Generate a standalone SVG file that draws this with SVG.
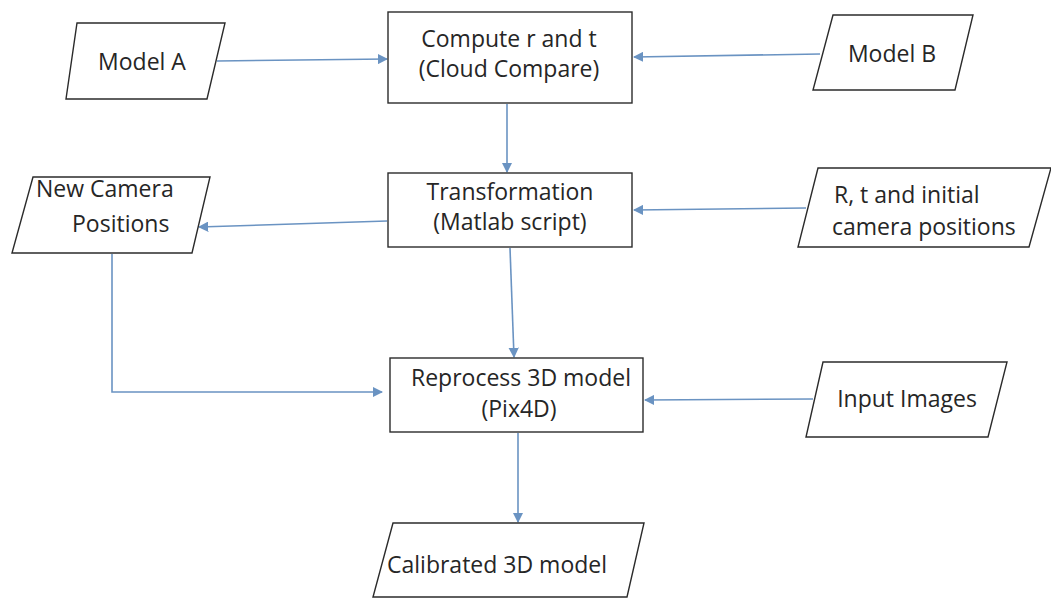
<svg xmlns="http://www.w3.org/2000/svg" width="1051" height="598" viewBox="0 0 1051 598">
  <style>
    .shape { fill: #ffffff; stroke: #2b2b2b; stroke-width: 1.4; }
    .label { font-family: "Open Sans", "Liberation Sans", sans-serif; font-size: 23px; fill: #262626; }
    .mid { text-anchor: middle; }
    .conn { fill: none; stroke: #6a93c2; stroke-width: 1.6; }
  </style>
  <defs>
    <marker id="arrow" viewBox="0 0 10 10" refX="9" refY="5" markerWidth="6.5" markerHeight="6.5" orient="auto" markerUnits="strokeWidth">
      <path d="M0,0 L10,5 L0,10 z" fill="#6a93c2"/>
    </marker>
  </defs>
  <rect width="1051" height="598" fill="#ffffff"/>

  <!-- connectors -->
  <g id="connectors">
    <path class="conn" d="M217,61 L387,59" marker-end="url(#arrow)"/>
    <path class="conn" d="M820,54 L634,57" marker-end="url(#arrow)"/>
    <path class="conn" d="M507,104 L507,172" marker-end="url(#arrow)"/>
    <path class="conn" d="M387,221 L199,227" marker-end="url(#arrow)"/>
    <path class="conn" d="M806,208 L634,210" marker-end="url(#arrow)"/>
    <path class="conn" d="M510,248 L514,357" marker-end="url(#arrow)"/>
    <path class="conn" d="M112,254 L112,392 L382,392" marker-end="url(#arrow)"/>
    <path class="conn" d="M813,399 L645,400" marker-end="url(#arrow)"/>
    <path class="conn" d="M518,433 L518,522" marker-end="url(#arrow)"/>
  </g>

  <!-- Model A -->
  <g id="model-a">
    <polygon class="shape" points="77,23 225,23 207,99 66,99"/>
    <text class="label mid" x="142" y="70">Model A</text>
  </g>

  <!-- Compute r and t -->
  <g id="compute-rt">
    <rect class="shape" x="388" y="12" width="244" height="91"/>
    <text class="label mid" x="509" y="47" font-size="24">Compute r and t</text>
    <text class="label mid" x="509" y="77" font-size="24">(Cloud Compare)</text>
  </g>

  <!-- Model B -->
  <g id="model-b">
    <polygon class="shape" points="833,15 973,15 955,90 813,90"/>
    <text class="label mid" x="892" y="62">Model B</text>
  </g>

  <!-- New Camera Positions -->
  <g id="new-camera-positions">
    <polygon class="shape" points="33,177 210,177 192,253 12,253"/>
    <text class="label" x="36" y="197">New Camera</text>
    <text class="label" x="72" y="232">Positions</text>
  </g>

  <!-- Transformation -->
  <g id="transformation">
    <rect class="shape" x="388" y="173" width="244" height="74"/>
    <text class="label mid" x="510" y="200">Transformation</text>
    <text class="label mid" x="510" y="230">(Matlab script)</text>
  </g>

  <!-- R, t and initial camera positions -->
  <g id="rt-initial">
    <polygon class="shape" points="818,168 1051,168 1029,247 798,247"/>
    <text class="label" x="834" y="203">R, t and initial</text>
    <text class="label" x="832" y="235">camera positions</text>
  </g>

  <!-- Reprocess 3D model -->
  <g id="reprocess">
    <rect class="shape" x="390" y="358" width="253" height="74"/>
    <text class="label mid" x="521" y="386">Reprocess 3D model</text>
    <text class="label mid" x="519" y="417">(Pix4D)</text>
  </g>

  <!-- Input Images -->
  <g id="input-images">
    <polygon class="shape" points="823,362 1007,362 988,437 806,437"/>
    <text class="label mid" x="907" y="407">Input Images</text>
  </g>

  <!-- Calibrated 3D model -->
  <g id="calibrated-model">
    <polygon class="shape" points="393,523 644,523 627,597 373,597"/>
    <text class="label" x="387" y="573">Calibrated 3D model</text>
  </g>
</svg>
